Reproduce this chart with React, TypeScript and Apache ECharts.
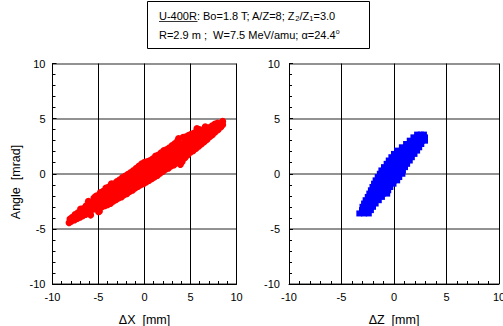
import React, { useEffect, useRef } from "react";
import * as echarts from "echarts";

const FONT = "'Liberation Sans', Arial, Helvetica, sans-serif";

const axisMin = -10;
const axisMax = 10;
const axisStep = 5;

const titleLine1 = "{u|U-400R}: Bo=1.8 T; A/Z=8; Z{sub|2}/Z{sub|1}=3.0";
const titleLine2 = "R=2.9 m ;  W=7.5 MeV/amu; \u03b1=24.4{sup|o}";
const yName = "Angle  [mrad]";
const xNameLeft = "\u0394X  [mm]";
const xNameRight = "\u0394Z  [mm]";

// Left panel: ΔX [mm] vs Angle [mrad]
const redPoints: number[][] = [
  [-8.2, -4.45], [-8.1, -4.1], [-7.95, -4.3], [-7.85, -3.95], [-7.6, -4.2], [-7.55, -3.7], [-7.3, -4.05], [-7.25, -3.55], [-7.35, -3.8],
  [-7.0, -3.95], [-6.95, -3.2], [-7.05, -3.6], [-6.7, -3.8], [-6.65, -3.15], [-6.75, -3.5],
  [-6.4, -3.7], [-6.35, -2.9], [-6.45, -3.3], [-6.1, -3.5], [-6.05, -2.8], [-6.15, -3.1], [-6.1, -2.5],
  [-5.85, -3.75], [-5.8, -3.3], [-5.75, -2.6], [-5.8, -2.95], [-5.35, -2.1], [-5.0, -3.45],
  [-5.5, -3.2], [-5.45, -2.5], [-5.55, -2.85], [-5.5, -2.2],
  [-5.2, -3.05], [-5.15, -2.3], [-5.25, -2.7], [-5.2, -2.0],
  [-4.9, -3.4], [-4.85, -2.9], [-4.95, -2.1], [-4.9, -2.5], [-4.8, -1.7],
  [-4.6, -3.0], [-4.55, -2.6], [-4.65, -1.9], [-4.6, -2.3], [-4.5, -1.6],
  [-4.3, -2.9], [-4.25, -2.5], [-4.35, -1.7], [-4.3, -2.15], [-4.2, -1.3],
  [-4.0, -2.8], [-3.95, -2.3], [-4.05, -1.5], [-4.0, -2.0], [-3.9, -1.2],
  [-3.7, -2.7], [-3.65, -2.1], [-3.75, -1.3], [-3.7, -1.85], [-3.6, -0.9],
  [-3.4, -2.5], [-3.35, -2.0], [-3.45, -1.2], [-3.4, -1.65], [-3.3, -0.9],
  [-3.1, -2.35], [-3.05, -1.8], [-3.15, -1.0], [-3.1, -1.5], [-3.0, -0.7],
  [-2.8, -2.2], [-2.75, -1.7], [-2.85, -0.8], [-2.8, -1.3], [-2.7, -0.55],
  [-2.5, -2.1], [-2.45, -1.5], [-2.55, -0.7], [-2.5, -1.2], [-2.4, -0.35],
  [-2.2, -1.9], [-2.15, -1.4], [-2.25, -0.5], [-2.2, -1.0], [-2.1, -0.2],
  [-1.9, -1.8], [-1.85, -1.2], [-1.95, -0.35], [-1.9, -0.85], [-1.8, -0.05],
  [-1.6, -1.6], [-1.55, -1.05], [-1.65, -0.2], [-1.6, -0.7], [-1.5, 0.1],
  [-1.3, -1.5], [-1.25, -0.9], [-1.35, -0.05], [-1.3, -0.55], [-1.2, 0.3],
  [-1.0, -1.3], [-0.95, -0.75], [-1.05, 0.1], [-1.0, -0.4], [-0.9, 0.5],
  [-0.7, -1.15], [-0.65, -0.6], [-0.75, 0.3], [-0.7, -0.2], [-0.6, 0.7],
  [-0.4, -1.0], [-0.35, -0.45], [-0.45, 0.4], [-0.4, -0.05], [-0.3, 0.9],
  [-0.1, -0.9], [-0.05, -0.3], [-0.15, 0.55], [-0.1, 0.1], [0.0, 1.05],
  [0.2, -0.75], [0.25, -0.1], [0.15, 0.7], [0.2, 0.25], [0.3, 1.1],
  [0.5, -0.6], [0.55, 0.0], [0.45, 0.85], [0.5, 0.4], [0.6, 1.2],
  [0.8, -0.45], [0.85, 0.15], [0.75, 1.0], [0.8, 0.55], [0.9, 1.35],
  [1.1, -0.3], [1.15, 0.3], [1.05, 1.15], [1.1, 0.7], [1.2, 1.6],
  [1.4, -0.15], [1.45, 0.45], [1.35, 1.3], [1.4, 0.85], [1.5, 1.7],
  [1.7, 0.05], [1.75, 0.6], [1.65, 1.45], [1.7, 1.0], [1.8, 1.9],
  [2.0, 0.2], [2.05, 0.75], [1.95, 1.6], [2.0, 1.2], [2.1, 2.1],
  [2.3, 0.4], [2.35, 0.9], [2.25, 1.75], [2.3, 1.3], [2.4, 2.2],
  [2.6, 0.5], [2.65, 1.05], [2.55, 1.9], [2.6, 1.5], [2.7, 2.35],
  [2.9, 0.7], [2.95, 1.2], [2.85, 2.1], [2.9, 1.65], [3.0, 2.55],
  [3.2, 0.8], [3.25, 1.35], [3.15, 2.3], [3.2, 1.8], [3.3, 2.75],
  [3.5, 1.0], [3.55, 1.5], [3.45, 2.45], [3.5, 2.0], [3.6, 3.0],
  [3.8, 1.2], [3.85, 1.7], [3.75, 2.6], [3.8, 2.1], [3.7, 3.2], [3.9, 0.85],
  [4.1, 1.1], [4.15, 1.85], [4.05, 2.7], [4.1, 2.3], [4.2, 3.3],
  [4.4, 1.45], [4.45, 2.0], [4.35, 2.85], [4.4, 2.45], [4.5, 3.35],
  [4.7, 1.7], [4.75, 2.2], [4.65, 3.0], [4.7, 2.6], [4.8, 3.5],
  [5.0, 1.95], [5.05, 2.4], [4.95, 3.15], [5.0, 2.75], [5.1, 3.6],
  [5.3, 2.1], [5.35, 2.55], [5.25, 3.35], [5.3, 2.9], [5.4, 3.7],
  [5.6, 2.3], [5.65, 2.7], [5.55, 3.45], [5.6, 3.05], [5.7, 3.9], [5.7, 4.1],
  [5.9, 2.5], [5.95, 2.9], [5.85, 3.6], [5.9, 3.2], [6.0, 4.0],
  [6.2, 2.7], [6.25, 3.05], [6.15, 3.8], [6.2, 3.4],
  [6.5, 2.9], [6.55, 3.25], [6.45, 3.9], [6.5, 3.55], [6.6, 4.25],
  [6.8, 3.1], [6.85, 3.45], [6.75, 4.1], [6.8, 3.75],
  [7.1, 3.35], [7.15, 3.65], [7.05, 4.2], [7.1, 3.9],
  [7.4, 3.55], [7.45, 3.85], [7.35, 4.35], [7.4, 4.05],
  [7.7, 3.8], [7.75, 4.05], [7.65, 4.5], [7.7, 4.25],
  [8.0, 4.0], [8.05, 4.3], [7.95, 4.6],
  [8.3, 4.25], [8.3, 4.5], [8.5, 4.75], [8.5, 4.45],
];

// Right panel: ΔZ [mm] vs Angle [mrad]
const bluePoints: number[][] = [
  [-3.3, -3.6], [-2.85, -3.6], [-2.4, -3.6],
  [-3.05, -3.3], [-2.65, -3.3], [-2.2, -3.3],
  [-3.0, -3.0], [-2.65, -3.0], [-2.3, -3.0], [-2.0, -3.0],
  [-2.85, -2.7], [-2.45, -2.7], [-2.1, -2.7], [-1.75, -2.7],
  [-2.7, -2.4], [-2.3, -2.4], [-1.9, -2.4], [-1.45, -2.4],
  [-2.5, -2.1], [-2.1, -2.1], [-1.65, -2.1], [-1.15, -2.1],
  [-2.35, -1.8], [-1.95, -1.8], [-1.5, -1.8], [-1.05, -1.8], [-0.65, -1.8],
  [-2.2, -1.5], [-1.8, -1.5], [-1.35, -1.5], [-0.95, -1.5], [-0.55, -1.5],
  [-2.05, -1.2], [-1.6, -1.2], [-1.2, -1.2], [-0.75, -1.2], [-0.35, -1.2],
  [-1.9, -0.9], [-1.45, -0.9], [-1.0, -0.9], [-0.5, -0.9], [-0.05, -0.9],
  [-1.75, -0.6], [-1.3, -0.6], [-0.85, -0.6], [-0.4, -0.6], [0.0, -0.6], [0.3, -0.6],
  [-1.55, -0.3], [-1.1, -0.3], [-0.65, -0.3], [-0.2, -0.3], [0.2, -0.3], [0.5, -0.3],
  [-1.35, 0.0], [-0.9, 0.0], [-0.45, 0.0], [0.0, 0.0], [0.4, 0.0], [0.8, 0.0],
  [-1.2, 0.3], [-0.75, 0.3], [-0.3, 0.3], [0.15, 0.3], [0.55, 0.3], [0.85, 0.3],
  [-0.95, 0.6], [-0.5, 0.6], [-0.05, 0.6], [0.4, 0.6], [0.75, 0.6], [1.05, 0.6],
  [-0.7, 0.9], [-0.25, 0.9], [0.2, 0.9], [0.6, 0.9], [0.95, 0.9], [1.25, 0.9],
  [-0.5, 1.2], [-0.05, 1.2], [0.4, 1.2], [0.8, 1.2], [1.15, 1.2], [1.5, 1.2],
  [-0.25, 1.5], [0.2, 1.5], [0.65, 1.5], [1.05, 1.5], [1.4, 1.5], [1.7, 1.5],
  [0.0, 1.8], [0.45, 1.8], [0.9, 1.8], [1.3, 1.8], [1.65, 1.8], [1.95, 1.8],
  [0.3, 2.1], [0.75, 2.1], [1.15, 2.1], [1.55, 2.1], [1.9, 2.1], [2.2, 2.1],
  [0.75, 2.4], [1.15, 2.4], [1.55, 2.4], [2.0, 2.4], [2.4, 2.4],
  [1.15, 2.7], [1.55, 2.7], [1.95, 2.7], [2.3, 2.7], [2.6, 2.7],
  [1.5, 3.0], [1.9, 3.0], [2.3, 3.0], [2.65, 3.0], [2.95, 3.0],
  [1.85, 3.3], [2.25, 3.3], [2.6, 3.3], [2.95, 3.3],
  [2.2, 3.55], [2.55, 3.55], [2.85, 3.55],
];

export default function App() {
  const ref = useRef<HTMLDivElement>(null);

  useEffect(() => {
    if (!ref.current) return;
    const chart = echarts.init(ref.current, null, { renderer: "svg" });

    const makeX = (gridIndex: number, name: string) => ({
      type: "value",
      gridIndex,
      min: axisMin,
      max: axisMax,
      interval: axisStep,
      name,
      nameLocation: "middle",
      nameGap: 29,
      nameTextStyle: { color: "#000", fontSize: 12.5, fontFamily: FONT },
      axisLine: { show: true, onZero: false, lineStyle: { color: "#000", width: 1 } },
      axisTick: { show: true, inside: true, length: 4, lineStyle: { color: "#000", width: 1 } },
      minorTick: { show: true, splitNumber: 5, length: 3, lineStyle: { color: "#000", width: 1 } },
      axisLabel: { color: "#000", fontSize: 11, fontFamily: FONT, margin: 7 },
      splitLine: { show: true, lineStyle: { color: "#000", width: 1 } },
    });
    const makeY = (gridIndex: number, margin: number) => ({
      type: "value",
      gridIndex,
      min: axisMin,
      max: axisMax,
      interval: axisStep,
      axisLine: { show: true, onZero: false, lineStyle: { color: "#000", width: 1 } },
      axisTick: { show: true, inside: true, length: 4, lineStyle: { color: "#000", width: 1 } },
      minorTick: { show: true, splitNumber: 5, length: 3, lineStyle: { color: "#000", width: 1 } },
      axisLabel: { color: "#000", fontSize: 11, fontFamily: FONT, margin },
      splitLine: { show: true, lineStyle: { color: "#6e6e6e", width: 1.5 } },
    });

    chart.setOption({
      animation: false,
      backgroundColor: "#fff",
      grid: [
        { left: 52.5, top: 63.5, width: 184, height: 220.5, containLabel: false, outerBoundsMode: "none" },
        { left: 289, top: 63.5, width: 210, height: 220.5, containLabel: false, outerBoundsMode: "none" },
      ],
      xAxis: [makeX(0, xNameLeft), makeX(1, xNameRight)],
      yAxis: [makeY(0, 7), makeY(1, 9)],
      series: [
        {
          type: "scatter",
          xAxisIndex: 0,
          yAxisIndex: 0,
          data: redPoints,
          symbol: "circle",
          symbolSize: 7,
          itemStyle: { color: "#ff0000", opacity: 1 },
        },
        {
          type: "scatter",
          xAxisIndex: 1,
          yAxisIndex: 1,
          data: bluePoints,
          symbol: "rect",
          symbolSize: 6,
          itemStyle: { color: "#0000ff", opacity: 1 },
        },
      ],
      graphic: [
        {
          type: "rect",
          shape: { x: 147.5, y: 1.5, width: 222, height: 47 },
          style: { fill: "#fff", stroke: "#000", lineWidth: 1 },
        },
        {
          type: "text",
          x: 159,
          y: 15.5,
          style: {
            text: titleLine1,
            fill: "#000",
            fontSize: 11,
            fontFamily: FONT,
            verticalAlign: "middle",
            align: "left",
            lineHeight: 14,
            rich: {
              u: { fontSize: 11, fontFamily: FONT, fill: "#000", lineHeight: 14 },
              sub: { fontSize: 7.5, fontFamily: FONT, fill: "#000", verticalAlign: "bottom", lineHeight: 6 },
            },
          },
        },
        {
          type: "line",
          shape: { x1: 159, y1: 21.5, x2: 197.5, y2: 21.5 },
          style: { stroke: "#000", lineWidth: 0.8 },
        },
        {
          type: "text",
          x: 159,
          y: 35,
          style: {
            text: titleLine2,
            fill: "#000",
            fontSize: 11,
            fontFamily: FONT,
            verticalAlign: "middle",
            align: "left",
            lineHeight: 14,
            rich: {
              sup: { fontSize: 7, fontFamily: FONT, fill: "#000", verticalAlign: "top", lineHeight: 8 },
            },
          },
        },
        {
          type: "text",
          x: 16,
          y: 182,
          rotation: Math.PI / 2,
          style: {
            text: yName,
            fill: "#000",
            fontSize: 12.5,
            fontFamily: FONT,
            align: "center",
            verticalAlign: "middle",
          },
        },
      ],
    });

    return () => chart.dispose();
  }, []);

  return (
    <div
      ref={ref}
      style={{ position: "absolute", left: 0, top: 0, width: 503, height: 326, background: "#fff" }}
    />
  );
}
